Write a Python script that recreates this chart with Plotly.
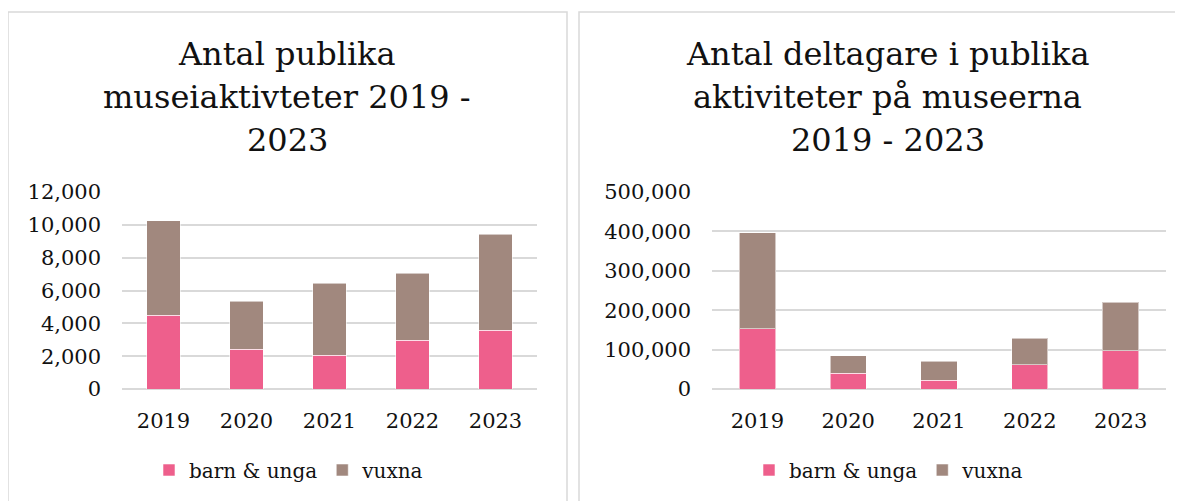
import plotly.graph_objects as go

W, H = 1183, 501
OFF = 8  # the page body margin shifts the figure by 8 px

years = ["2019", "2020", "2021", "2022", "2023"]
series_names = ["barn & unga", "vuxna"]

# Antal publika museiaktiviteter
aktiv_barn = [4480, 2420, 2070, 2970, 3570]
aktiv_vuxna = [5770, 2940, 4370, 4080, 5850]

# Antal deltagare
delt_barn = [153000, 39800, 22000, 61700, 97300]
delt_vuxna = [243800, 44800, 48200, 66900, 123500]

title_left = ["Antal publika", "museiaktivteter 2019 -", "2023"]
title_right = ["Antal deltagare i publika", "aktiviteter på museerna", "2019 - 2023"]

PINK = "#EE5F8C"
BROWN = "#A1887E"
GRID = "#D9D9D9"
FONT = "DejaVu Serif, Georgia, serif"
TXT = "#111111"


def px(x):
    return (x - OFF) / W


def py(y):
    return 1 - (y - OFF) / H


fig = go.Figure()

for vals, name, col in [(aktiv_barn, series_names[0], PINK),
                        (aktiv_vuxna, series_names[1], BROWN)]:
    fig.add_trace(go.Bar(x=years, y=vals, name=name, marker_color=col,
                         marker_line=dict(color="rgba(255,255,255,0.55)", width=1),
                         xaxis="x", yaxis="y", legend="legend"))

for vals, name, col in [(delt_barn, series_names[0], PINK),
                        (delt_vuxna, series_names[1], BROWN)]:
    fig.add_trace(go.Bar(x=years, y=vals, name=name, marker_color=col,
                         marker_line=dict(color="rgba(255,255,255,0.55)", width=1),
                         xaxis="x2", yaxis="y2", legend="legend2"))

ydom = [py(389), py(192)]
common_x = dict(showgrid=False, showline=False, zeroline=False, ticks="", automargin=False,
                tickfont=dict(family=FONT, size=21, color=TXT), ticklabelstandoff=17)
common_y = dict(showgrid=True, gridcolor=GRID, gridwidth=2, zeroline=True, automargin=False,
                zerolinecolor=GRID, zerolinewidth=2, showline=False, ticks="",
                tickformat=",d", tickfont=dict(family=FONT, size=21, color=TXT),
                ticklabelstandoff=20, domain=ydom)

fig.update_layout(
    width=W, height=H, margin=dict(l=0, r=0, t=0, b=0, autoexpand=False),
    paper_bgcolor="white", plot_bgcolor="white",
    barmode="stack", bargap=0.6,
    xaxis=dict(domain=[px(122), px(537)], anchor="y", **common_x),
    yaxis=dict(range=[0, 12000], dtick=2000, anchor="x", **common_y),
    xaxis2=dict(domain=[px(712), px(1166)], anchor="y2", **common_x),
    yaxis2=dict(range=[0, 500000], dtick=100000, anchor="x2", **common_y),
    legend=dict(orientation="h", x=px(289), xanchor="center", y=py(470), yanchor="middle",
                font=dict(family=FONT, size=20, color=TXT), bgcolor="rgba(0,0,0,0)",
                traceorder="normal"),
    legend2=dict(orientation="h", x=px(889), xanchor="center", y=py(470), yanchor="middle",
                 font=dict(family=FONT, size=20, color=TXT), bgcolor="rgba(0,0,0,0)",
                 traceorder="normal"),
    showlegend=True,
)

# panel borders
fig.add_shape(type="rect", xref="paper", yref="paper", x0=px(8), x1=px(567),
              y0=-0.1, y1=py(12), line=dict(color=GRID, width=1.5), layer="below")
fig.add_shape(type="rect", xref="paper", yref="paper", x0=px(579), x1=1.05,
              y0=-0.1, y1=py(12), line=dict(color=GRID, width=1.5), layer="below")

centers_y = [54, 97, 140]
for lines, cx in [(title_left, 287), (title_right, 888)]:
    for t, cy in zip(lines, centers_y):
        fig.add_annotation(text=t, xref="paper", yref="paper", x=px(cx), y=py(cy),
                           xanchor="center", yanchor="middle", showarrow=False,
                           font=dict(family=FONT, size=32, color=TXT))

fig.write_html("out.html")
